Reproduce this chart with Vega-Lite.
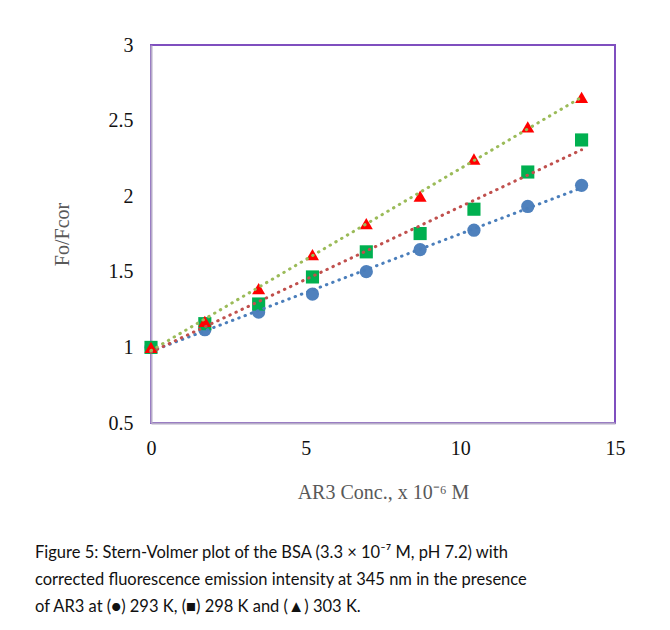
{
  "$schema": "https://vega.github.io/schema/vega-lite/v6.json",
  "autosize": "none",
  "width": 464,
  "height": 378,
  "padding": {"left": 151, "top": 45, "right": 55, "bottom": 207},
  "background": "white",
  "config": {
    "view": {"stroke": "#7f4fbf", "strokeWidth": 2},
    "axis": {"grid": false, "ticks": false, "labelFont": "Liberation Serif", "titleFont": "Liberation Serif", "labelFontSize": 20, "titleFontSize": 20, "labelColor": "#111111", "titleColor": "#595959", "titleFontWeight": "normal", "domainColor": "#b6abc8", "domainWidth": 2}
  },
  "title": {
    "text": ["Figure 5: Stern-Volmer plot of the BSA (3.3 × 10⁻⁷ M, pH 7.2) with", "corrected fluorescence emission intensity at 345 nm in the presence", "of AR3 at (●) 293 K, (■) 298 K and (▲) 303 K."],
    "orient": "bottom",
    "anchor": "start",
    "frame": "bounds",
    "font": "Lato",
    "fontSize": 16.5,
    "fontWeight": "normal",
    "color": "#111111",
    "lineHeight": 27,
    "offset": 43,
    "dx": -17
  },
  "data": {
    "values": [
      {"conc": 0, "ratio": 1.0, "temp": "293 K"},
      {"conc": 1.74, "ratio": 1.117, "temp": "293 K"},
      {"conc": 3.48, "ratio": 1.234, "temp": "293 K"},
      {"conc": 5.22, "ratio": 1.353, "temp": "293 K"},
      {"conc": 6.96, "ratio": 1.501, "temp": "293 K"},
      {"conc": 8.7, "ratio": 1.647, "temp": "293 K"},
      {"conc": 10.44, "ratio": 1.775, "temp": "293 K"},
      {"conc": 12.18, "ratio": 1.932, "temp": "293 K"},
      {"conc": 13.92, "ratio": 2.072, "temp": "293 K"},
      {"conc": 0, "ratio": 1.0, "temp": "298 K"},
      {"conc": 1.74, "ratio": 1.157, "temp": "298 K"},
      {"conc": 3.48, "ratio": 1.287, "temp": "298 K"},
      {"conc": 5.22, "ratio": 1.466, "temp": "298 K"},
      {"conc": 6.96, "ratio": 1.632, "temp": "298 K"},
      {"conc": 8.7, "ratio": 1.753, "temp": "298 K"},
      {"conc": 10.44, "ratio": 1.914, "temp": "298 K"},
      {"conc": 12.18, "ratio": 2.16, "temp": "298 K"},
      {"conc": 13.92, "ratio": 2.372, "temp": "298 K"},
      {"conc": 0, "ratio": 1.0, "temp": "303 K"},
      {"conc": 1.74, "ratio": 1.172, "temp": "303 K"},
      {"conc": 3.48, "ratio": 1.389, "temp": "303 K"},
      {"conc": 5.22, "ratio": 1.614, "temp": "303 K"},
      {"conc": 6.96, "ratio": 1.818, "temp": "303 K"},
      {"conc": 8.7, "ratio": 2.0, "temp": "303 K"},
      {"conc": 10.44, "ratio": 2.246, "temp": "303 K"},
      {"conc": 12.18, "ratio": 2.458, "temp": "303 K"},
      {"conc": 13.92, "ratio": 2.653, "temp": "303 K"}
    ]
  },
  "layer": [
    {
      "mark": {"type": "point", "filled": true, "opacity": 1},
      "encoding": {
        "x": {"field": "conc", "type": "quantitative", "scale": {"domain": [0, 15], "nice": false}, "axis": {"values": [0, 5, 10, 15], "labelPadding": 15, "titlePadding": 24, "title": "AR3 Conc., x 10⁻⁶ M", "labelFlush": false}},
        "y": {"field": "ratio", "type": "quantitative", "scale": {"domain": [0.5, 3], "nice": false}, "axis": {"values": [0.5, 1, 1.5, 2, 2.5, 3], "format": ".1~f", "labelPadding": 18, "titlePadding": 36, "title": "Fo/Fcor", "labelFlush": false}},
        "fill": {"field": "temp", "type": "nominal", "scale": {"domain": ["293 K", "298 K", "303 K"], "range": ["#4f81bd", "#00b050", "#ff0000"]}, "legend": null},
        "shape": {"field": "temp", "type": "nominal", "scale": {"domain": ["293 K", "298 K", "303 K"], "range": ["circle", "square", "triangle-up"]}, "legend": null},
        "size": {"field": "temp", "type": "nominal", "scale": {"domain": ["293 K", "298 K", "303 K"], "range": [175, 170, 280]}, "legend": null}
      }
    },
    {
      "transform": [{"regression": "ratio", "on": "conc", "groupby": ["temp"], "method": "linear"}],
      "mark": {"type": "line", "strokeWidth": 3, "strokeDash": [0.5, 6.2], "strokeCap": "round"},
      "encoding": {
        "x": {"field": "conc", "type": "quantitative"},
        "y": {"field": "ratio", "type": "quantitative"},
        "stroke": {"field": "temp", "type": "nominal", "scale": {"domain": ["293 K", "298 K", "303 K"], "range": ["#4a7ebb", "#c0504d", "#9bbb59"]}, "legend": null}
      }
    }
  ]
}
